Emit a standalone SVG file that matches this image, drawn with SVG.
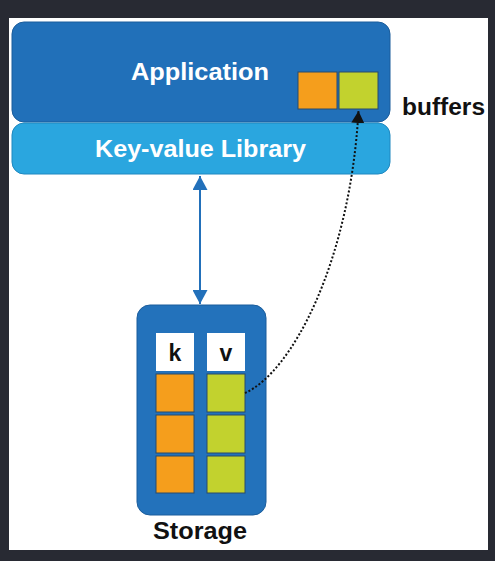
<svg xmlns="http://www.w3.org/2000/svg" width="495" height="561" viewBox="0 0 495 561">
  <defs>
    <style>
      .lbl { font-family: "Liberation Sans", Arial, sans-serif; font-weight: bold; text-anchor: middle; }
      .white { fill: #ffffff; }
      .dark { fill: #111111; }
      .key { fill: #f59e1c; stroke: #2a4a6a; stroke-width: 1; }
      .val { fill: #c2d22e; stroke: #2a4a6a; stroke-width: 1; }
      .hdr { fill: #ffffff; }
    </style>
    <marker id="blueHead" viewBox="0 0 14 15" refX="14" refY="7.5" markerWidth="14" markerHeight="15" markerUnits="userSpaceOnUse" orient="auto-start-reverse">
      <path d="M0,0 L14,7.5 L0,15 Z" fill="#2270ba"/>
    </marker>
    <marker id="blackHead" viewBox="0 0 12 13" refX="12" refY="6.5" markerWidth="12" markerHeight="13" markerUnits="userSpaceOnUse" orient="auto">
      <path d="M0,0 L12,6.5 L0,13 Z" fill="#111111"/>
    </marker>
  </defs>

  <!-- frame -->
  <rect x="0" y="0" width="495" height="561" fill="#282a33"/>
  <rect x="9" y="18" width="479" height="532" fill="#ffffff"/>

  <g id="application">
    <rect x="12" y="22" width="378" height="100" rx="12" fill="#2170b9" stroke="#1b5d9c" stroke-width="1"/>
    <text class="lbl white" x="200" y="80" font-size="24" textLength="138" lengthAdjust="spacingAndGlyphs">Application</text>
  </g>

  <g id="buffers">
    <rect class="key" x="298" y="72" width="39" height="37"/>
    <rect class="val" x="339" y="72" width="39" height="37"/>
    <text class="lbl dark" x="443.5" y="115" font-size="23" textLength="83" lengthAdjust="spacingAndGlyphs">buffers</text>
  </g>

  <g id="kv-library">
    <rect x="12" y="123" width="378" height="51" rx="12" fill="#2aa6df" stroke="#1e88c0" stroke-width="1"/>
    <text class="lbl white" x="200.5" y="157" font-size="24" textLength="211" lengthAdjust="spacingAndGlyphs">Key-value Library</text>
  </g>

  <g id="storage">
    <rect x="137" y="305" width="129" height="210" rx="13" fill="#2372bb" stroke="#1b5d9c" stroke-width="1"/>
    <rect class="hdr" x="156" y="333" width="38" height="38"/>
    <rect class="hdr" x="207" y="333" width="38" height="38"/>
    <text class="lbl dark" x="175" y="361" font-size="23">k</text>
    <text class="lbl dark" x="226" y="361" font-size="23">v</text>
    <rect class="key" x="156" y="374" width="38" height="38"/>
    <rect class="key" x="156" y="415" width="38" height="38"/>
    <rect class="key" x="156" y="456" width="38" height="37"/>
    <rect class="val" x="207" y="374" width="38" height="38"/>
    <rect class="val" x="207" y="415" width="38" height="38"/>
    <rect class="val" x="207" y="456" width="38" height="37"/>
    <text class="lbl dark" x="200" y="539" font-size="23" textLength="94" lengthAdjust="spacingAndGlyphs">Storage</text>
  </g>

  <g id="connectors">
    <!-- library <-> storage -->
    <line x1="200" y1="176" x2="200" y2="304" stroke="#2270ba" stroke-width="2" marker-start="url(#blueHead)" marker-end="url(#blueHead)"/>
    <!-- value fetched into buffer -->
    <path d="M245,393 C292,372 350,262 358.5,111" fill="none" stroke="#111111" stroke-width="2" stroke-dasharray="2,2" marker-end="url(#blackHead)"/>
  </g>
</svg>
